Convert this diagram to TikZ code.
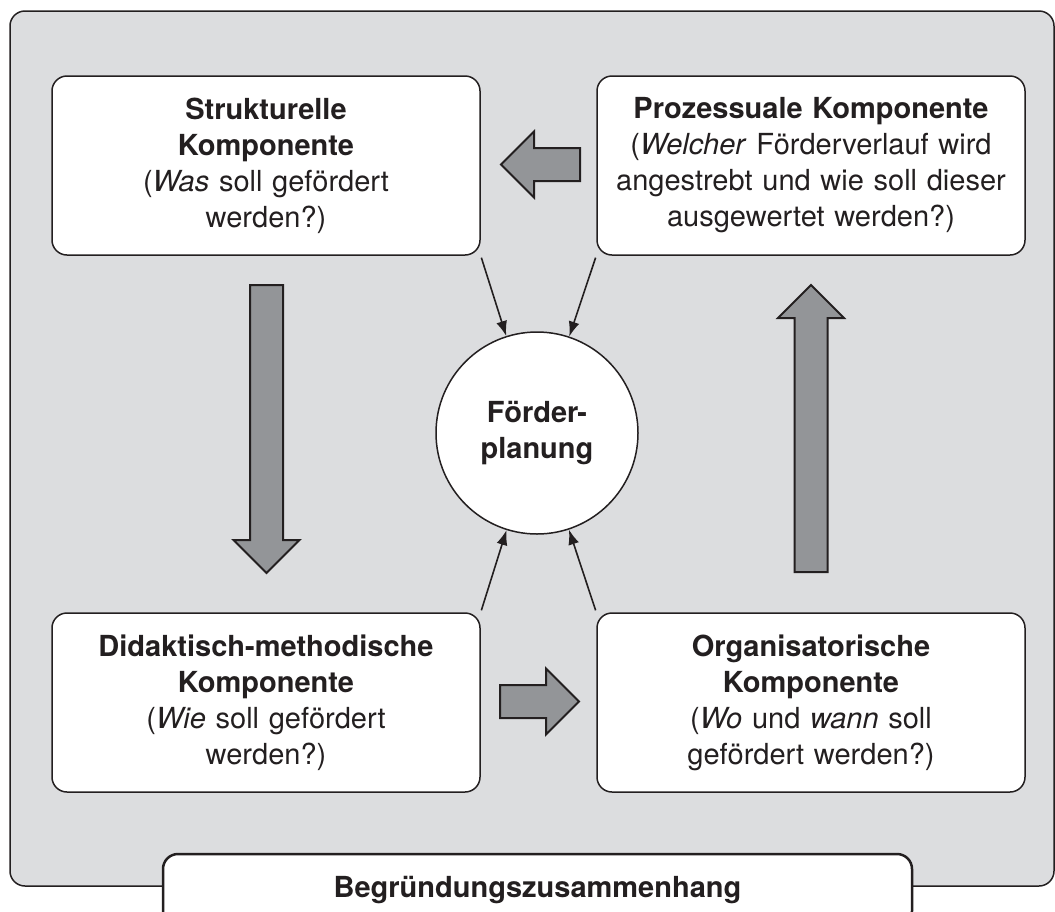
\documentclass[tikz,border=0pt]{standalone}
\usepackage{fontspec}
\setmainfont{TeX Gyre Heros}
\usetikzlibrary{arrows.meta}
\definecolor{hintergrund}{HTML}{DCDDDF}
\definecolor{pfeilgrau}{HTML}{939598}
\definecolor{linie}{HTML}{231F20}

\begin{document}
\begin{tikzpicture}[x=1pt,y=-1pt,
komp/.style={draw=linie,line width=1.5pt,fill=white,rounded corners=15pt,minimum width=428pt,minimum height=179pt,text width=414pt,align=center,inner sep=0pt,text=linie,font=\fontsize{29}{36}\selectfont},
blockpfeil/.style={draw=linie,line width=2pt,fill=pfeilgrau},
zeiger/.style={draw=linie,line width=1.6pt,-{Latex[length=15pt,width=11pt]},shorten <=2pt}]
\useasboundingbox (0,0) rectangle (1055,911);
\draw[linie,line width=1.5pt,fill=hintergrund,rounded corners=15pt] (10,11) rectangle (1054,886);
\node[komp] (struk) at (266,165.5) {\textbf{Strukturelle}\\\textbf{Komponente}\\(\textit{Was} soll gefördert\\werden?)};
\node[komp] (prozess) at (811,165.5) {\textbf{Prozessuale Komponente}\\(\textit{Welcher} Förderverlauf wird\\angestrebt und wie soll dieser\\ausgewertet werden?)};
\node[komp] (didakt) at (266,702.5) {\textbf{Didaktisch-methodische}\\\textbf{Komponente}\\(\textit{Wie} soll gefördert\\werden?)};
\node[komp] (orga) at (811,702.5) {\textbf{Organisatorische}\\\textbf{Komponente}\\(\textit{Wo} und \textit{wann} soll\\gefördert werden?)};
\node[circle,draw=linie,line width=1.5pt,fill=white,minimum size=202pt,inner sep=0pt,align=center,text=linie,font=\bfseries\fontsize{29}{36}\selectfont] (foerder) at (537,433) {Förder-\\planung};
\draw[blockpfeil] (250,285) -- (283,285) -- (283,540) -- (299.5,540) -- (266.5,573) -- (233.5,540) -- (250,540) -- cycle;
\draw[blockpfeil] (794.5,572) -- (827.5,572) -- (827.5,318) -- (844,318) -- (811,285) -- (778,318) -- (794.5,318) -- cycle;
\draw[blockpfeil] (580,148) -- (580,181) -- (534,181) -- (534,197.5) -- (501,164.5) -- (534,131.5) -- (534,148) -- cycle;
\draw[blockpfeil] (500,685) -- (500,718) -- (546,718) -- (546,734.5) -- (579,701.5) -- (546,668.5) -- (546,685) -- cycle;
\draw[zeiger] (struk.south east) -- (foerder);
\draw[zeiger] (prozess.south west) -- (foerder);
\draw[zeiger] (didakt.north east) -- (foerder);
\draw[zeiger] (orga.north west) -- (foerder);
\node[draw=linie,line width=2.5pt,fill=white,rounded corners=15pt,minimum width=749pt,minimum height=72pt,text=linie,font=\bfseries\fontsize{29}{36}\selectfont] (begr) at (537.5,890) {Begründungszusammenhang};
\end{tikzpicture}
\end{document}
